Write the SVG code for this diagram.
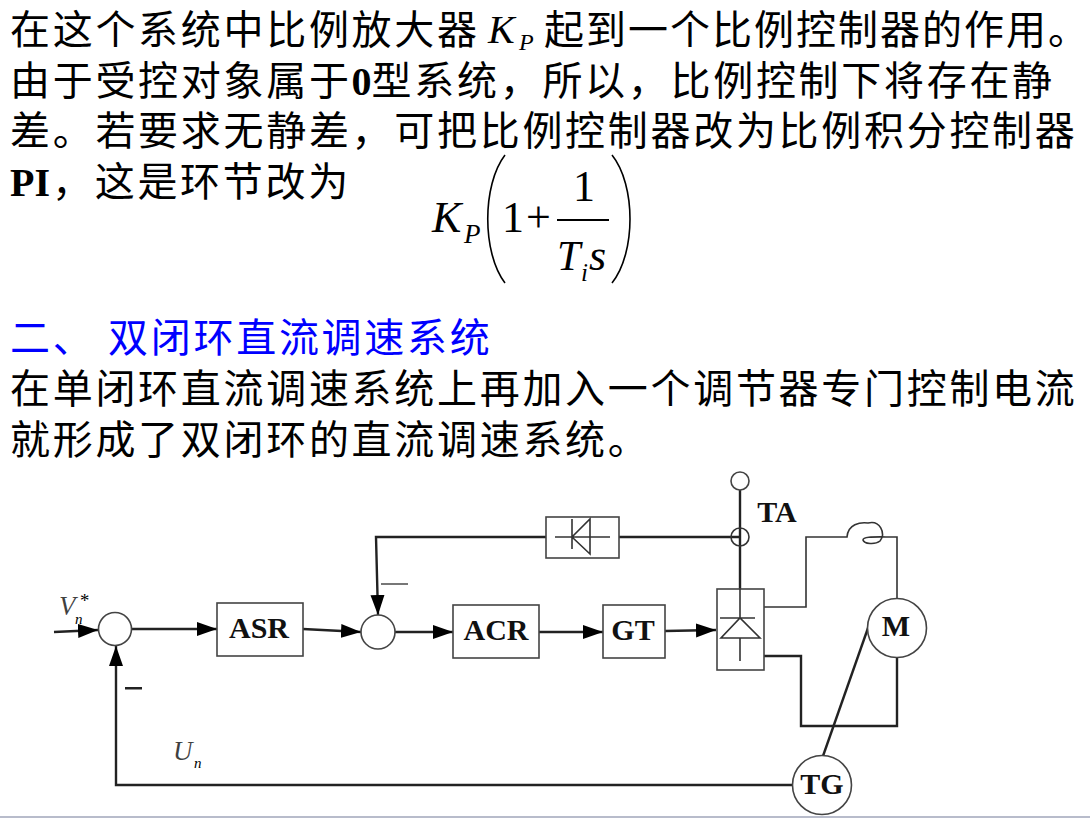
<svg xmlns="http://www.w3.org/2000/svg" width="1090" height="818" viewBox="0 0 1090 818">
<style>
.t{font-family:"Liberation Serif","Noto Sans CJK SC",serif;font-size:40px;letter-spacing:2.7px;fill:#000}
.b{font-weight:700}
.blue{fill:#0000ff}
.m{font-family:"Liberation Serif",serif;font-style:italic;fill:#000}
.r{font-family:"Liberation Serif",serif;fill:#000}
.n{font-family:"Liberation Serif",serif;font-weight:700;font-size:30px;fill:#111;text-anchor:middle}
.box{fill:#fff;stroke:#444;stroke-width:1.6}
.w{fill:none;stroke:#222;stroke-width:2.4}
.thin{fill:none;stroke:#333;stroke-width:1.6}
</style>
<defs><marker id="a" markerUnits="userSpaceOnUse" markerWidth="21" markerHeight="16" refX="20" refY="8" orient="auto"><path d="M0 1L20 8L0 15Z" fill="#000"/></marker></defs>
<rect width="1090" height="818" fill="#fff"/>
<rect y="816" width="1090" height="2" fill="#b8bccb"/>
<g id="text">
<text class="t" x="10" y="44">在这个系统中比例放大器</text>
<text class="m" x="488" y="43" font-size="40">K</text><text class="m" x="519" y="50" font-size="24">P</text>
<text class="t" x="544" y="44" style="letter-spacing:2px">起到一个比例控制器的作用。</text>
<text class="t" x="10" y="95">由于受控对象属于<tspan class="b" style="letter-spacing:0">0</tspan>型系统，所以，比例控制下将存在静</text>
<text class="t" x="10" y="145">差。若要求无静差，可把比例控制器改为比例积分控制器</text>
<text class="t" x="10" y="196"><tspan class="b" style="letter-spacing:0">PI</tspan><tspan dx="2">，这是环节改为</tspan></text>
<text class="m" x="432" y="232" font-size="44">K</text><text class="m" x="464" y="243" font-size="27">P</text>
<path d="M505 155C482 185 482 253 505 283M612 155C636 185 636 253 612 283" fill="none" stroke="#000" stroke-width="1.6"/>
<text class="r" x="502" y="232" font-size="44">1</text>
<text class="r" x="526" y="232" font-size="44">+</text>
<text class="r" x="573" y="201" font-size="44">1</text>
<rect x="557" y="219" width="52" height="2" fill="#000"/>
<text class="m" x="557" y="270" font-size="42">T</text><text class="m" x="581" y="281" font-size="25">i</text><text class="m" x="589" y="270" font-size="44">s</text>
<text class="t blue" x="10" y="352">二、 双闭环直流调速系统</text>
<text class="t" x="10" y="403">在单闭环直流调速系统上再加入一个调节器专门控制电流</text>
<text class="t" x="10" y="454">就形成了双闭环的直流调速系统。</text>
</g>
<g id="connectors">
<path class="w" d="M54 632L98 630" marker-end="url(#a)"/>
<path class="w" d="M132 629H217" marker-end="url(#a)"/>
<path class="w" d="M303 629L361 632" marker-end="url(#a)"/>
<path class="w" d="M395 632H453" marker-end="url(#a)"/>
<path class="w" d="M539 632H603" marker-end="url(#a)"/>
<path class="w" d="M665 631L716 630" marker-end="url(#a)"/>
<path class="w" d="M619 537H740V589M740 490V537"/>
<path class="w" d="M546 537H376L378 615" marker-end="url(#a)"/>
<path class="w" d="M792 785H116V646" marker-end="url(#a)"/>
<path class="thin" d="M764 607H806V537H847C848 524 860 522 868 523C880 520 886 533 880 541C875 545 864 544 863 540C863 536 875 537 897 537V598"/>
<path class="w" d="M764 656H801V726H897V658"/>
<path class="w" d="M868 628L823 756"/>
</g>
<g id="node-ta"><circle class="box" cx="740" cy="481" r="9"/><circle cx="740" cy="537" r="9" class="thin"/><text class="n" x="777" y="522">TA</text></g>
<g id="node-diode"><rect class="box" x="546" y="517" width="73" height="41"/><path class="thin" d="M555 537H610M572 519V549M590 519V554L572 537Z"/></g>
<g id="node-sum1"><circle class="box" cx="115" cy="629" r="16.5"/></g>
<g id="node-asr"><rect class="box" x="217" y="603" width="86" height="53"/><text class="n" x="259" y="638">ASR</text></g>
<g id="node-sum2"><circle class="box" cx="378" cy="632" r="17"/></g>
<g id="node-acr"><rect class="box" x="453" y="605" width="86" height="53"/><text class="n" x="496" y="640">ACR</text></g>
<g id="node-gt"><rect class="box" x="603" y="605" width="62" height="53"/><text class="n" x="633" y="640">GT</text></g>
<g id="node-rect"><rect class="box" x="717" y="589" width="47" height="81"/><path class="thin" d="M740 589V618M720 618H755M721 638H760L740 618ZM740 638V661"/></g>
<g id="node-m"><circle class="box" cx="897" cy="628" r="29.5"/><text class="n" x="896" y="636">M</text></g>
<g id="node-tg"><circle class="box" cx="822" cy="785" r="29.5"/><text class="n" x="822" y="794">TG</text></g>
<g id="labels">
<text class="m" x="59" y="615" font-size="27" fill-opacity=".75">V</text><text class="m" x="79" y="607" font-size="19">*</text><text class="m" x="75" y="624" font-size="15">n</text>
<text class="m" x="173" y="760" font-size="27" fill-opacity=".75">U</text><text class="m" x="194" y="768" font-size="15">n</text>
<rect x="125" y="687" width="17" height="2.5" fill="#222"/>
<rect x="381" y="583" width="27" height="2" fill="#777"/>
</g>
</svg>
